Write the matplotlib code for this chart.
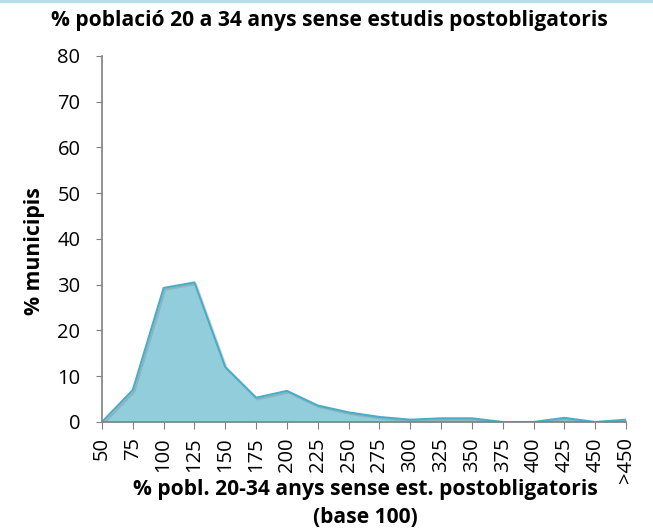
import matplotlib
matplotlib.use("Agg")
import matplotlib.pyplot as plt
import matplotlib.patheffects as pe

plt.rcParams['font.family'] = ['Open Sans', 'DejaVu Sans']

# histogram categories (base 100) and share of municipalities (%)
categories = ['50', '75', '100', '125', '150', '175', '200', '225', '250',
              '275', '300', '325', '350', '375', '400', '425', '450', '>450']
pct_municipis = [0, 7.0, 29.3, 30.5, 12.0, 5.3, 6.8, 3.6, 2.1,
                 1.1, 0.5, 0.8, 0.8, 0, 0, 0.9, 0, 0.5]

y_ticks = list(range(0, 81, 10))

fig = plt.figure(figsize=(6.53, 5.32), dpi=100)
ax = fig.add_axes([0.1562, 0.2068, 0.8025, 0.688])

x = list(range(len(categories)))
shadow = [pe.SimpleLineShadow(offset=(1.2, -1.2), shadow_color='#7f7f7f', alpha=0.3), pe.Normal()]
ax.fill_between(x, pct_municipis, 0, color='#92CDDC', linewidth=0)
ax.plot(x, pct_municipis, color='#4BACC6', linewidth=1.5, path_effects=shadow)

ax.set_xlim(0, len(categories) - 1)
ax.set_ylim(0, 80)
ax.set_xticks(x)
ax.set_xticklabels(categories, rotation=90, fontsize=14.5)
ax.set_yticks(y_ticks)
ax.tick_params(axis='y', labelsize=14.5, direction='out', length=4.5, pad=11, color='#808080')
ax.tick_params(axis='x', direction='out', length=5, pad=6, color='#808080')

for side in ['top', 'right']:
    ax.spines[side].set_visible(False)
for side in ['left', 'bottom']:
    ax.spines[side].set_color('#808080')
    ax.spines[side].set_linewidth(1.2)

ax.set_ylabel('% municipis', fontsize=15.3, fontweight='bold')
ax.yaxis.set_label_coords(-0.108, 0.466)
ax.set_xlabel('% pobl. 20-34 anys sense est. postobligatoris\n(base 100)',
              fontsize=15.1, fontweight='bold', linespacing=1.4)
ax.xaxis.set_label_coords(0.502, -0.157)
fig.text(0.504, 0.951, '% població 20 a 34 anys sense estudis postobligatoris',
         ha='center', va='baseline', fontsize=15.1, fontweight='bold')

# thin light-blue band along the top edge
fig.add_artist(plt.Line2D([0, 1], [0.998, 0.998], color='#B7DDE8', linewidth=3,
                          transform=fig.transFigure))

fig.savefig('out.png', dpi=100)
